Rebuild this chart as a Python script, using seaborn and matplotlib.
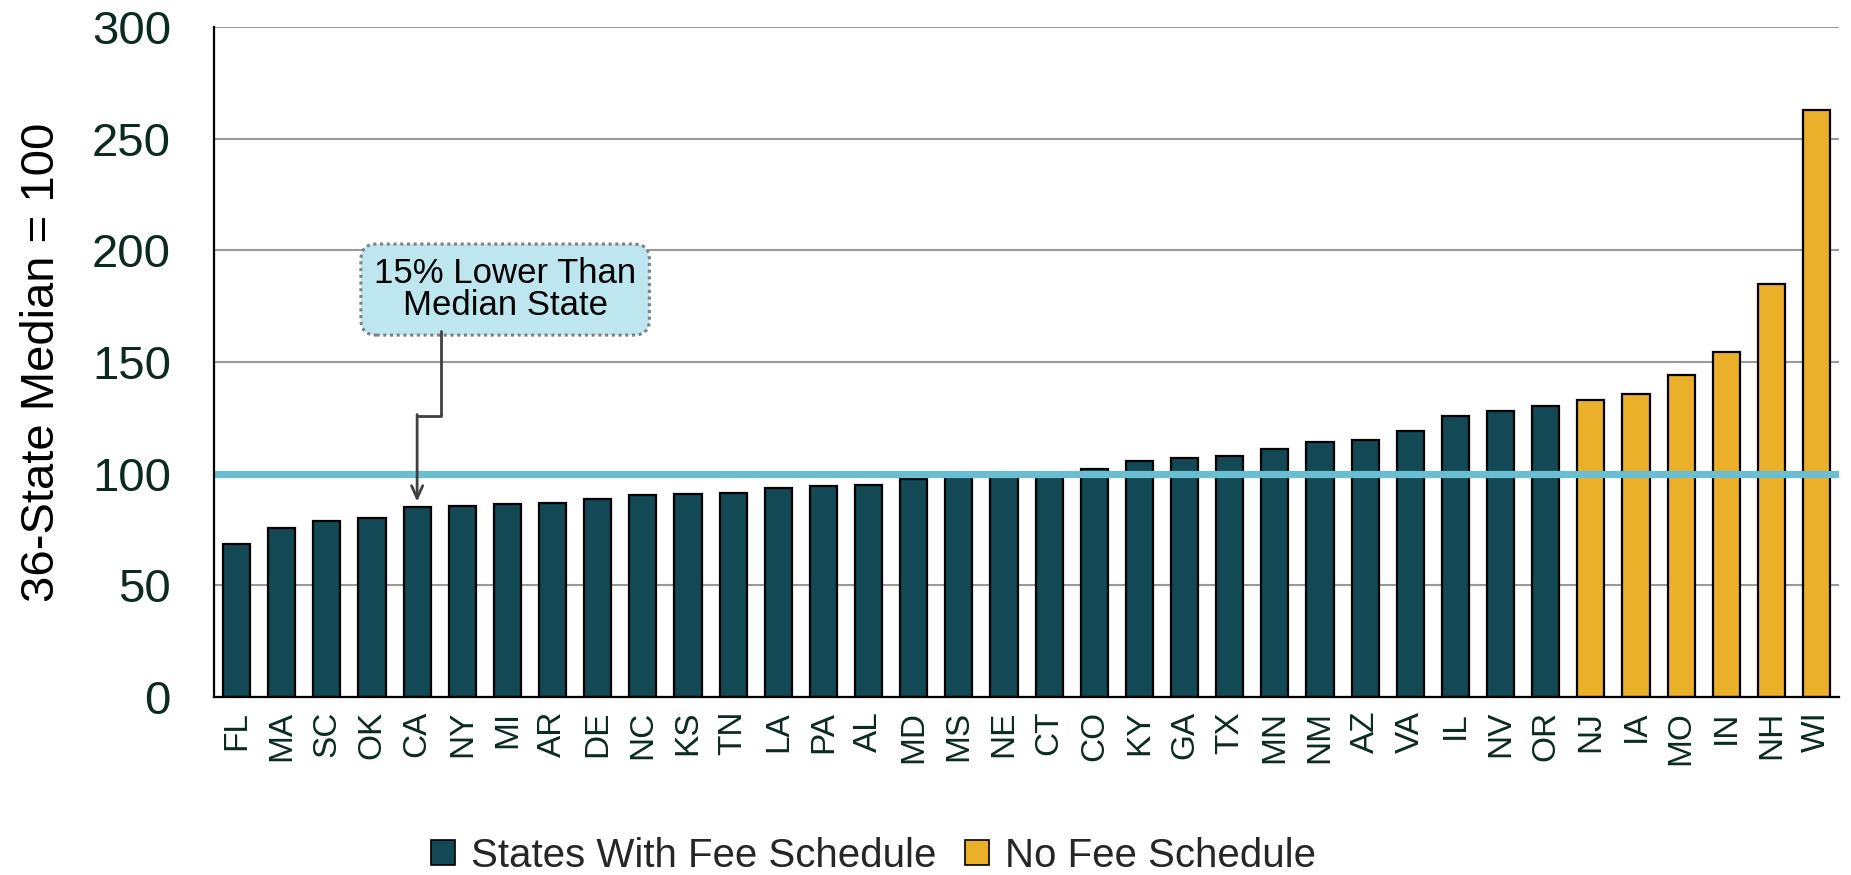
import pandas as pd
import numpy as np
import matplotlib
matplotlib.use("Agg")
import matplotlib.pyplot as plt
import seaborn as sns
from matplotlib.patches import Patch

# values (36-state median = 100)
states = ["FL", "MA", "SC", "OK", "CA", "NY", "MI", "AR", "DE", "NC", "KS", "TN",
          "LA", "PA", "AL", "MD", "MS", "NE", "CT", "CO", "KY", "GA", "TX", "MN",
          "NM", "AZ", "VA", "IL", "NV", "OR", "NJ", "IA", "MO", "IN", "NH", "WI"]
values = [68.5, 75.5, 78.7, 80.2, 85.1, 85.4, 86.3, 87.1, 88.6, 90.3, 90.8, 91.6,
          93.8, 94.7, 95.1, 97.5, 99.0, 99.5, 100.0, 102.1, 105.9, 106.9, 108.1, 111.1,
          114.0, 115.1, 119.1, 125.7, 127.9, 130.3, 132.9, 135.9, 144.4, 154.5, 184.8, 263.0]
groups = ["States With Fee Schedule"] * 30 + ["No Fee Schedule"] * 6
median_value = 100
y_ticks = [0, 50, 100, 150, 200, 250, 300]
note_text = "15% Lower Than\nMedian State"

teal = "#134955"
gold = "#EBB02A"
median_blue = "#6BBDD2"
text_dark = "#0B2A22"

df = pd.DataFrame({"state": states, "value": values, "group": groups})

sns.set_style("white")
plt.rcParams["font.family"] = ["Liberation Sans", "DejaVu Sans"]

fig = plt.figure(figsize=(18.51, 8.75), dpi=100)
ax = fig.add_axes([0.1156, 0.2034, 0.878, 0.7655])

sns.barplot(data=df, x="state", y="value", hue="group", order=states,
            palette={"States With Fee Schedule": teal, "No Fee Schedule": gold},
            saturation=1, dodge=False, width=0.6, edgecolor="black",
            linewidth=1.6, legend=False, ax=ax, zorder=3)

# median reference line
ax.axhline(median_value, color=median_blue, lw=5.2, zorder=4)

ax.set_ylim(0, 300)
ax.set_xlim(-0.5, len(states) - 0.5)
ax.set_yticks(y_ticks)
ax.yaxis.grid(True, color="#999999", lw=1.5)
ax.set_axisbelow(True)
for s in ["top", "right"]:
    ax.spines[s].set_visible(False)
for s in ["left", "bottom"]:
    ax.spines[s].set_color("black")
    ax.spines[s].set_linewidth(1.6)
    ax.spines[s].set_zorder(5)

ax.tick_params(axis="y", length=0, pad=31, labelsize=34, labelcolor=text_dark)
ax.tick_params(axis="x", length=0, pad=10, labelsize=24, labelcolor=text_dark,
               labelrotation=90)
ax.set_xlabel("")
ax.set_ylabel("36-State Median = 100", fontsize=34, color="black", labelpad=20)

# callout box + elbow arrow pointing at CA
ax.text(5.95, 182.5, note_text, ha="center", va="center", fontsize=25,
        color="black", linespacing=0.95, zorder=6,
        bbox=dict(boxstyle="round,pad=0.38,rounding_size=0.45", fc="#BDE6EF",
                  ec="#7f7f7f", lw=2.2, ls=(0, (1, 1.2))))
ax.plot([4.53, 4.53, 4.0], [164, 126, 126], color="#404040", lw=2, zorder=6)
ax.annotate("", xy=(4.0, 87.5), xytext=(4.0, 126.5),
            arrowprops=dict(arrowstyle="->,head_length=0.9,head_width=0.4",
                            color="#404040", lw=2, shrinkA=0, shrinkB=0),
            zorder=6)

handles = [Patch(fc=teal, ec="black", lw=1.2, label="States With Fee Schedule"),
           Patch(fc=gold, ec="black", lw=1.2, label="No Fee Schedule")]
fig.legend(handles=handles, loc="center", bbox_to_anchor=(0.472, 0.022),
           ncol=2, frameon=False, fontsize=29, handlelength=0.6,
           handleheight=0.6, handletextpad=0.4, columnspacing=0.7)

fig.savefig("out.png", dpi=100)
